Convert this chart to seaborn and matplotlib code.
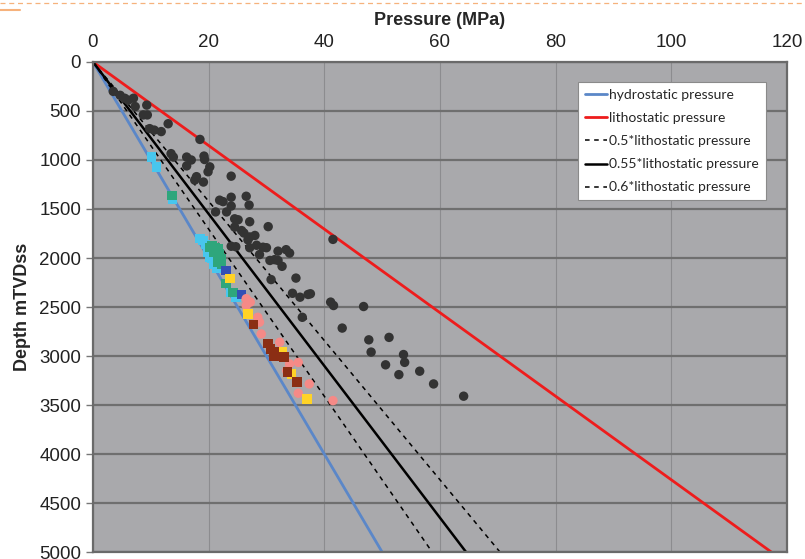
import matplotlib
matplotlib.use("Agg")
import matplotlib.pyplot as plt
from matplotlib.lines import Line2D
import seaborn as sns
import pandas as pd

# reference gradients (depth in m, pressure in MPa)
line_depth = [0, 5000]
hydro_p = [0, 50.0]
litho_p = [0, 117.3]
fractions = [0.5, 0.55, 0.6]

black_p = [3.5, 4.7, 5.5, 6.1, 7.0, 7.3, 9.3, 8.7, 9.4, 9.8, 10.6, 11.8, 13.0, 18.5,
           13.5, 13.9, 16.2, 17.0, 19.2, 19.3, 20.2, 19.9, 16.2, 17.9, 17.6, 19.1,
           23.9, 21.9, 22.5, 23.9, 26.5, 23.9, 27.0, 21.2, 23.1, 24.5, 25.1, 27.1,
           24.5, 25.7, 26.1, 30.3, 27.1, 28.0, 26.8, 28.3, 29.4, 30.0, 23.9, 24.7,
           27.1, 32.0, 33.4, 34.0, 28.8, 30.6, 31.4, 32.0, 32.7, 41.5, 35.1, 30.8,
           34.5, 35.8, 37.2, 37.6, 41.1, 41.6, 46.8, 36.2, 43.1, 47.7, 51.2, 48.1,
           53.7, 53.9, 50.6, 52.9, 56.5, 58.9, 64.1]
black_d = [300, 340, 370, 390, 370, 455, 440, 540, 540, 680, 695, 710, 630, 790,
           935, 970, 970, 1000, 960, 995, 1070, 1120, 1060, 1170, 1205, 1225,
           1165, 1410, 1425, 1380, 1370, 1470, 1460, 1530, 1530, 1600, 1610, 1630,
           1685, 1720, 1745, 1680, 1785, 1770, 1815, 1870, 1890, 1895, 1880, 1885,
           1895, 1930, 1915, 1950, 1965, 2025, 2017, 2025, 2085, 1810, 2205, 2220,
           2360, 2400, 2372, 2365, 2450, 2485, 2495, 2605, 2715, 2835, 2810, 2960,
           2985, 3065, 3090, 3190, 3155, 3285, 3410]

cyan_p = [10.1, 11.0, 13.8, 18.5, 19.0, 19.5, 19.9, 20.5, 20.8, 21.4, 23.9, 24.7, 20.2, 21.0]
cyan_d = [970, 1070, 1400, 1800, 1820, 1860, 1940, 2005, 2060, 2110, 2350, 2400, 1990, 2020]

green_p = [13.7, 20.2, 21.1, 21.6, 20.8, 21.9, 22.2, 21.6, 22.2, 23.0, 24.2, 20.6]
green_d = [1360, 1890, 1890, 1905, 1940, 1955, 2005, 2040, 2060, 2260, 2350, 1870]

blue_p = [23.0, 25.7]
blue_d = [2130, 2370]

pink_p = [26.5, 26.5, 28.5, 28.8, 29.1, 32.3, 34.0, 35.5, 37.4, 35.5, 41.5, 33.5, 27.2]
pink_d = [2415, 2485, 2605, 2655, 2775, 2860, 3080, 3065, 3285, 3380, 3455, 3150, 2450]

yellow_p = [23.7, 26.8, 32.7, 34.3, 37.0]
yellow_d = [2210, 2570, 2960, 3185, 3440]

darkred_p = [27.8, 30.3, 30.7, 31.4, 31.3, 33.0, 33.6, 35.3]
darkred_d = [2680, 2870, 2930, 2960, 3005, 3010, 3165, 3265]

groups = {
    "black": (black_p, black_d),
    "cyan": (cyan_p, cyan_d),
    "green": (green_p, green_d),
    "blue": (blue_p, blue_d),
    "pink": (pink_p, pink_d),
    "yellow": (yellow_p, yellow_d),
    "darkred": (darkred_p, darkred_d),
}
pts = pd.concat(
    [pd.DataFrame({"pressure": p, "depth": d, "group": g}) for g, (p, d) in groups.items()],
    ignore_index=True,
)
palette = {"black": "#333333", "cyan": "#48c6ee", "green": "#2ea67c", "blue": "#3350b5",
           "pink": "#f58a87", "yellow": "#ffd326", "darkred": "#8b2e14"}
markers = {"black": "o", "cyan": "s", "green": "s", "blue": "s",
           "pink": "o", "yellow": "s", "darkred": "s"}

sns.set_style("white")
plt.rcParams["font.family"] = ["Liberation Sans", "DejaVu Sans"]

fig = plt.figure(figsize=(8.05, 5.59), dpi=100)
ax = fig.add_axes([0.1155, 0.0125, 0.862, 0.8766])
ax.set_facecolor("#a9a9ac")

lines = pd.DataFrame({"depth": line_depth, "hydro": hydro_p, "litho": litho_p})
for f in fractions:
    lines[f"f{f}"] = [f * v for v in litho_p]

sns.lineplot(data=lines, x="hydro", y="depth", ax=ax, color="#5b87c8", lw=2,
             sort=False, estimator=None, label="hydrostatic pressure")
sns.lineplot(data=lines, x="litho", y="depth", ax=ax, color="#ee1c1c", lw=2,
             sort=False, estimator=None, label="lithostatic pressure")
styles = {0.5: dict(ls=(0, (3, 3)), lw=1.1), 0.55: dict(ls="-", lw=1.8), 0.6: dict(ls=(0, (3, 3)), lw=1.1)}
for f in fractions:
    sns.lineplot(data=lines, x=f"f{f}", y="depth", ax=ax, color="black",
                 sort=False, estimator=None, label=f"{f}*lithostatic pressure", **styles[f])

sns.scatterplot(data=pts, x="pressure", y="depth", hue="group", style="group",
                palette=palette, markers=markers, s=46, linewidth=0, legend=False,
                ax=ax, zorder=3)

ax.set_xlim(0, 120)
ax.set_ylim(5000, 0)
ax.set_xticks(range(0, 121, 20))
ax.set_yticks(range(0, 5001, 500))
ax.xaxis.tick_top()
ax.xaxis.set_label_position("top")
ax.set_xlabel("Pressure (MPa)", fontsize=13, fontweight="bold")
ax.set_ylabel("Depth mTVDss", fontsize=13, fontweight="bold")
ax.xaxis.set_label_coords(0.5, 1.075)
ax.yaxis.set_label_coords(-0.089, 0.5)
ax.tick_params(axis="x", length=0, pad=8, labelsize=13.5, colors="#222222")
ax.tick_params(axis="y", length=5, width=1, pad=3.5, labelsize=13.5, color="#777777",
               labelcolor="#222222", left=True)
for lab in ax.get_yticklabels():
    lab.set_verticalalignment("center_baseline")

ax.grid(axis="y", color="#6f6f6f", lw=1.6)
ax.grid(axis="x", color="#8c8c8f", lw=0.8)
ax.set_axisbelow(True)
for sp in ax.spines.values():
    sp.set_color("#6a6a6a")
    sp.set_linewidth(1.6)

leg = ax.legend(loc="upper left", bbox_to_anchor=(0.699, 0.959), borderaxespad=0,
                frameon=True, fancybox=False, framealpha=1, edgecolor="#8a8a8a",
                prop={"family": "Lato", "size": 10}, handlelength=1.6,
                handletextpad=0.15, labelspacing=0.8, borderpad=0.5)
leg.get_frame().set_linewidth(0.8)

# slide decoration at the very top
fig.add_artist(Line2D([0, 1], [0.994, 0.994], transform=fig.transFigure,
                      color="#f6b27c", lw=0.9, ls=(0, (4, 3))))
fig.add_artist(Line2D([0, 0.025], [0.982, 0.982], transform=fig.transFigure,
                      color="#f6b27c", lw=1.5))

fig.savefig("out.png", dpi=100)
